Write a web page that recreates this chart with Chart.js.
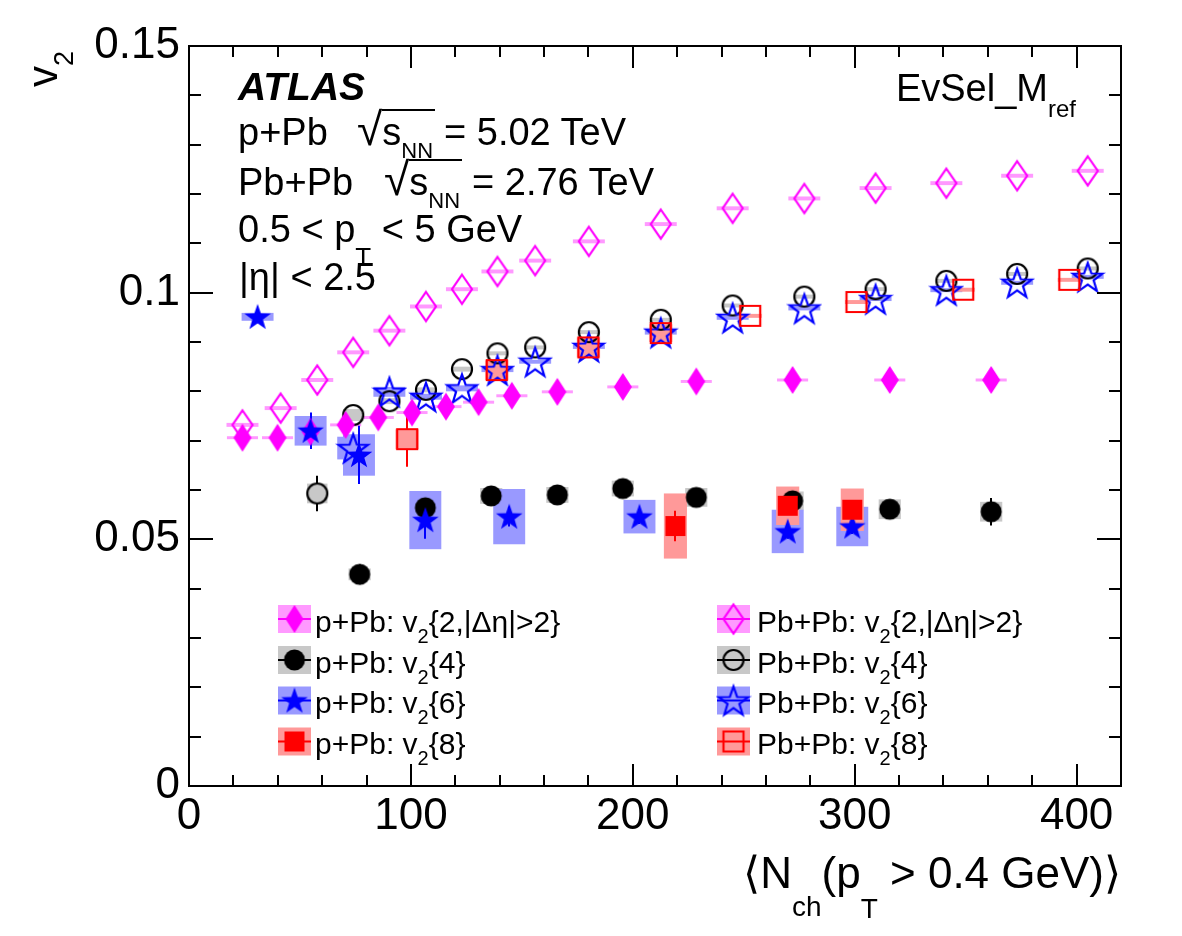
<!DOCTYPE html>
<html>
<head>
<meta charset="utf-8">
<script src="https://cdn.jsdelivr.net/npm/chart.js@4.4.1/dist/chart.umd.min.js"></script>
<style>
    html, body { margin: 0; padding: 0; background: #fff; }
    #wrap { position: relative; width: 1182px; height: 936px; overflow: hidden; }
    #chart { position: absolute; left: 0; top: 0; }
    .t { position: absolute; white-space: nowrap; font-family: "Liberation Sans", Arial, Helvetica, sans-serif; line-height: 1; color: #000; }
    .t sub { line-height: 0; }
    .ov { border-top: 2px solid #000; padding-right: 2px; }
    .rt { font-size: 46px; line-height: 0; }
</style>
</head>
<body>
<div id="wrap">
    <canvas id="chart" width="1182" height="936"></canvas>

    <div class="t" style="left:22px;top:87px;font-size:42px;transform-origin:0 0;transform:rotate(-90deg)">v<sub style="font-size:27px;vertical-align:-16px">2</sub></div>
    <div class="t" style="right:61px;top:850.8px;font-size:44px">&#10216;N<sub style="font-size:28px;vertical-align:-28px">ch</sub>(p<sub style="font-size:28px;vertical-align:-30px">T</sub> &gt; 0.4 GeV)&#10217;</div>

    <div class="t" style="left:238px;top:67px;font-size:39px;font-weight:bold;font-style:italic">ATLAS</div>
    <div class="t" style="left:238px;top:112.8px;font-size:38px">p+Pb</div>
    <div class="t" style="left:357px;top:112.8px;font-size:38px"><span class="rt">&#8730;</span><span class="ov">s<sub style="font-size:22px;vertical-align:-13px">NN</sub></span></div>
    <div class="t" style="left:444px;top:112.8px;font-size:38px">= 5.02 TeV</div>
    <div class="t" style="left:238px;top:162.8px;font-size:38px">Pb+Pb</div>
    <div class="t" style="left:384px;top:162.8px;font-size:38px"><span class="rt">&#8730;</span><span class="ov">s<sub style="font-size:22px;vertical-align:-13px">NN</sub></span></div>
    <div class="t" style="left:472px;top:162.8px;font-size:38px">= 2.76 TeV</div>
    <div class="t" style="left:238px;top:209.5px;font-size:38px">0.5 &lt; p<sub style="font-size:26px;vertical-align:-24px">T</sub> &lt; 5 GeV</div>
    <div class="t" style="left:239px;top:257.8px;font-size:38px">|&#951;| &lt; 2.5</div>
    <div class="t" style="right:106px;top:68.8px;font-size:38px">EvSel_M<sub style="font-size:24px;vertical-align:-16px">ref</sub></div>

    <div class="t" style="left:315px;top:607px;font-size:30px">p+Pb: v<sub style="font-size:20px;vertical-align:-11px">2</sub>{2,|&#916;&#951;|&gt;2}</div>
    <div class="t" style="left:315px;top:647.5px;font-size:30px">p+Pb: v<sub style="font-size:20px;vertical-align:-11px">2</sub>{4}</div>
    <div class="t" style="left:315px;top:688px;font-size:30px">p+Pb: v<sub style="font-size:20px;vertical-align:-11px">2</sub>{6}</div>
    <div class="t" style="left:315px;top:729px;font-size:30px">p+Pb: v<sub style="font-size:20px;vertical-align:-11px">2</sub>{8}</div>
    <div class="t" style="left:757px;top:607px;font-size:30px">Pb+Pb: v<sub style="font-size:20px;vertical-align:-11px">2</sub>{2,|&#916;&#951;|&gt;2}</div>
    <div class="t" style="left:757px;top:647.5px;font-size:30px">Pb+Pb: v<sub style="font-size:20px;vertical-align:-11px">2</sub>{4}</div>
    <div class="t" style="left:757px;top:688px;font-size:30px">Pb+Pb: v<sub style="font-size:20px;vertical-align:-11px">2</sub>{6}</div>
    <div class="t" style="left:757px;top:729px;font-size:30px">Pb+Pb: v<sub style="font-size:20px;vertical-align:-11px">2</sub>{8}</div>
</div>
<script>
// p+Pb
const ppbNch2 = [24.1, 39.9, 54.8, 70.6, 85.3, 100.5, 115.8, 130.5, 145.5, 166.0, 195.5, 228.6, 272.0, 315.8, 361.5];
const ppbV2_2 = [0.0706, 0.0706, 0.0718, 0.0732, 0.0747, 0.0757, 0.0769, 0.0778, 0.0791, 0.0799, 0.0809, 0.0820, 0.0823, 0.0823, 0.0823];
const ppbV2_2Stat = [0.0003, 0.0003, 0.0003, 0.0003, 0.0003, 0.0003, 0.0003, 0.0003, 0.0003, 0.0003, 0.0003, 0.0003, 0.0003, 0.0003, 0.0003];
const ppbV2_2Sys = [0.0003, 0.0003, 0.0003, 0.0003, 0.0003, 0.0003, 0.0003, 0.0003, 0.0003, 0.0003, 0.0003, 0.0003, 0.0003, 0.0003, 0.0003];

const ppbNch4 = [76.9, 106.5, 136.2, 166.0, 195.5, 228.6, 272.0, 315.8, 361.5];
const ppbV2_4 = [0.0429, 0.0564, 0.0588, 0.0590, 0.0603, 0.0585, 0.0578, 0.0561, 0.0556];
const ppbV2_4Stat = [0.0020, 0.0008, 0.0006, 0.0006, 0.0006, 0.0008, 0.0010, 0.0012, 0.0028];
const ppbV2_4Sys = [0.0012, 0.0015, 0.0016, 0.0016, 0.0016, 0.0019, 0.0019, 0.0020, 0.0020];

const ppbNch6 = [30.9, 54.8, 76.6, 106.5, 144.3, 203.0, 269.8, 298.9];
const ppbV2_6 = [0.0951, 0.0720, 0.0671, 0.0539, 0.0546, 0.0546, 0.0516, 0.0526];
const ppbV2_6Stat = [0.0005, 0.0037, 0.0059, 0.0038, 0.0020, 0.0015, 0.0015, 0.0015];
const ppbV2_6Sys = [0.0008, 0.0030, 0.0042, 0.0059, 0.0056, 0.0034, 0.0044, 0.0040];

const ppbNch8 = [219.2, 269.8, 298.9];
const ppbV2_8 = [0.0527, 0.0568, 0.0560];
const ppbV2_8Stat = [0.0031, 0.0015, 0.0015];
const ppbV2_8Sys = [0.0066, 0.0039, 0.0043];

// Pb+Pb
const pbpbNch2 = [24.1, 41.3, 57.8, 74.0, 90.3, 106.8, 123.0, 139.0, 156.0, 180.2, 212.6, 245.0, 277.3, 309.4, 341.3, 373.2, 405.0];
const pbpbV2_2 = [0.0732, 0.0766, 0.0823, 0.0879, 0.0923, 0.0972, 0.1007, 0.1043, 0.1065, 0.1104, 0.1139, 0.1171, 0.1191, 0.1212, 0.1222, 0.1237, 0.1247];
const pbpbV2_2Stat = [0.0003, 0.0003, 0.0003, 0.0003, 0.0003, 0.0003, 0.0003, 0.0003, 0.0003, 0.0003, 0.0003, 0.0003, 0.0003, 0.0003, 0.0003, 0.0003, 0.0003];
const pbpbV2_2Sys = [0.0004, 0.0004, 0.0004, 0.0004, 0.0004, 0.0004, 0.0004, 0.0004, 0.0004, 0.0004, 0.0004, 0.0004, 0.0004, 0.0004, 0.0004, 0.0004, 0.0004];

const pbpbNch4 = [57.8, 74.0, 90.3, 106.8, 123.0, 139.0, 156.0, 180.2, 212.6, 245.0, 277.3, 309.4, 341.3, 373.2, 405.0];
const pbpbV2_4 = [0.0593, 0.0752, 0.0780, 0.0803, 0.0845, 0.0877, 0.0889, 0.0920, 0.0945, 0.0974, 0.0992, 0.1007, 0.1024, 0.1038, 0.1049];
const pbpbV2_4Stat = [0.0036, 0.0004, 0.0004, 0.0004, 0.0004, 0.0004, 0.0004, 0.0004, 0.0004, 0.0004, 0.0004, 0.0004, 0.0004, 0.0004, 0.0004];
const pbpbV2_4Sys = [0.0020, 0.0012, 0.0006, 0.0005, 0.0005, 0.0004, 0.0004, 0.0004, 0.0004, 0.0004, 0.0004, 0.0004, 0.0004, 0.0004, 0.0004];

const pbpbNch6 = [74.0, 90.3, 106.8, 123.0, 139.0, 156.0, 180.2, 212.6, 245.0, 277.3, 309.4, 341.3, 373.2, 405.0];
const pbpbV2_6 = [0.0685, 0.0799, 0.0789, 0.0806, 0.0843, 0.0860, 0.0890, 0.0919, 0.0949, 0.0968, 0.0987, 0.1005, 0.1020, 0.1032];
const pbpbV2_6Stat = [0.0015, 0.0005, 0.0004, 0.0004, 0.0004, 0.0004, 0.0004, 0.0004, 0.0004, 0.0004, 0.0004, 0.0004, 0.0004, 0.0004];
const pbpbV2_6Sys = [0.0023, 0.0010, 0.0006, 0.0006, 0.0004, 0.0004, 0.0004, 0.0004, 0.0004, 0.0004, 0.0004, 0.0004, 0.0004, 0.0004];

const pbpbNch8 = [98.3, 138.7, 180.0, 212.6, 252.9, 300.8, 348.9, 396.7];
const pbpbV2_8 = [0.0703, 0.0843, 0.0889, 0.0918, 0.0953, 0.0981, 0.1006, 0.1026];
const pbpbV2_8Stat = [0.0056, 0.0005, 0.0005, 0.0005, 0.0005, 0.0005, 0.0005, 0.0005];
const pbpbV2_8Sys = [0.0020, 0.0020, 0.0020, 0.0018, 0.0004, 0.0004, 0.0004, 0.0004];

const xTicks = { min: 0, max: 420, major: 100, minor: 20 };
const yTicks = { min: 0, max: 0.15, major: 0.05, minor: 0.01 };

// marker pictures, drawn once and used as Chart.js pointStyle
function makeMarker(shape, filled, color) {
    const c = document.createElement("canvas");
    c.width = 36;
    c.height = 36;
    const ctx = c.getContext("2d");
    ctx.translate(18, 18);
    ctx.beginPath();
    if (shape === "diamond") {
        const w = filled ? 9 : 10, h = filled ? 14 : 14.5;
        ctx.moveTo(0, -h); ctx.lineTo(w, 0); ctx.lineTo(0, h); ctx.lineTo(-w, 0); ctx.closePath();
    } else if (shape === "circle") {
        ctx.arc(0, 0, filled ? 10.5 : 10, 0, Math.PI * 2);
    } else if (shape === "square") {
        ctx.rect(-10, -10, 20, 20);
    } else if (shape === "star") {
        const R = filled ? 14 : 15.5, r = R * 0.4;
        for (let i = 0; i < 10; i++) {
            const a = -Math.PI / 2 + i * Math.PI / 5;
            const rad = i % 2 ? r : R;
            ctx.lineTo(rad * Math.cos(a), rad * Math.sin(a) + (filled ? 1 : 1.5));
        }
        ctx.closePath();
    }
    if (filled) {
        ctx.fillStyle = color;
        ctx.fill();
    } else {
        ctx.lineWidth = 2.2;
        ctx.strokeStyle = color;
        ctx.stroke();
    }
    return c;
}

const MAGENTA = "#ff00ff", BLACK = "#000000", BLUE = "#0000ff", RED = "#ff0000";

// top-most series first (Chart.js draws dataset 0 last)
const seriesDefs = [
    { x: ppbNch8, y: ppbV2_8, stat: ppbV2_8Stat, sys: ppbV2_8Sys, color: RED, box: "#ff9999", shape: "square", filled: true, hw: 5.2, gap: 0 },
    { x: ppbNch6, y: ppbV2_6, stat: ppbV2_6Stat, sys: ppbV2_6Sys, color: BLUE, box: "#9999ff", shape: "star", filled: true, hw: 7.2, gap: 0 },
    { x: ppbNch4, y: ppbV2_4, stat: ppbV2_4Stat, sys: ppbV2_4Sys, color: BLACK, box: "#c8c8c8", shape: "circle", filled: true, hw: 5.0, gap: 0 },
    { x: ppbNch2, y: ppbV2_2, stat: ppbV2_2Stat, sys: ppbV2_2Sys, color: MAGENTA, box: "#ff99ff", shape: "diamond", filled: true, hw: 7.0, gap: 0 },
    { x: pbpbNch8, y: pbpbV2_8, stat: pbpbV2_8Stat, sys: pbpbV2_8Sys, color: RED, box: "#ff9999", shape: "square", filled: false, hw: 5.2, gap: 10 },
    { x: pbpbNch6, y: pbpbV2_6, stat: pbpbV2_6Stat, sys: pbpbV2_6Sys, color: BLUE, box: "#9999ff", shape: "star", filled: false, hw: 7.2, gap: 14 },
    { x: pbpbNch4, y: pbpbV2_4, stat: pbpbV2_4Stat, sys: pbpbV2_4Sys, color: BLACK, box: "#c8c8c8", shape: "circle", filled: false, hw: 4.6, gap: 10 },
    { x: pbpbNch2, y: pbpbV2_2, stat: pbpbV2_2Stat, sys: pbpbV2_2Sys, color: MAGENTA, box: "#ff99ff", shape: "diamond", filled: false, hw: 7.2, gap: 14 }
];
seriesDefs.forEach(s => { s.marker = makeMarker(s.shape, s.filled, s.color); });

// legend rows: [series index, box centre x, row centre y]
const legendRows = [
    [3, 294.5, 619], [2, 294.5, 660], [1, 294.5, 700.5], [0, 294.5, 741.5],
    [7, 733.5, 619], [6, 733.5, 660], [5, 733.5, 700.5], [4, 733.5, 741.5]
];

const rootStyle = {
    id: "rootStyle",
    beforeDatasetsDraw(chart) {
        const { ctx, chartArea: area, scales: { x, y } } = chart;
        ctx.save();
        ctx.beginPath();
        ctx.rect(area.left, area.top, area.right - area.left, area.bottom - area.top);
        ctx.clip();
        // systematic boxes
        for (let k = seriesDefs.length - 1; k >= 0; k--) {
            const s = seriesDefs[k];
            ctx.fillStyle = s.box;
            s.x.forEach((xv, i) => {
                const x0 = x.getPixelForValue(xv - s.hw), x1 = x.getPixelForValue(xv + s.hw);
                const y0 = y.getPixelForValue(s.y[i] + s.sys[i]), y1 = y.getPixelForValue(s.y[i] - s.sys[i]);
                ctx.fillRect(x0, y0, x1 - x0, Math.max(y1 - y0, 2));
            });
        }
        // statistical error bars
        ctx.lineWidth = 2;
        for (let k = seriesDefs.length - 1; k >= 0; k--) {
            const s = seriesDefs[k];
            ctx.strokeStyle = s.color;
            s.x.forEach((xv, i) => {
                const px = Math.round(x.getPixelForValue(xv));
                const py = y.getPixelForValue(s.y[i]);
                const top = y.getPixelForValue(s.y[i] + s.stat[i]);
                const bot = y.getPixelForValue(s.y[i] - s.stat[i]);
                ctx.beginPath();
                if (py - top > s.gap) { ctx.moveTo(px, top); ctx.lineTo(px, py - s.gap); }
                if (bot - py > s.gap) { ctx.moveTo(px, py + s.gap); ctx.lineTo(px, bot); }
                ctx.stroke();
            });
        }
        ctx.restore();
    },
    afterDatasetsDraw(chart) {
        const { ctx, chartArea: area, scales: { x, y } } = chart;
        ctx.save();
        ctx.strokeStyle = "#000";
        ctx.lineWidth = 2;
        ctx.strokeRect(area.left, area.top, area.right - area.left, area.bottom - area.top);
        ctx.beginPath();
        for (let v = xTicks.min; v <= xTicks.max + 1e-9; v += xTicks.minor) {
            const px = Math.round(x.getPixelForValue(v));
            const len = Math.abs(v % xTicks.major) < 1e-6 ? 22 : 11;
            ctx.moveTo(px, area.bottom); ctx.lineTo(px, area.bottom - len);
            ctx.moveTo(px, area.top); ctx.lineTo(px, area.top + len);
        }
        for (let i = 0; i <= Math.round((yTicks.max - yTicks.min) / yTicks.minor); i++) {
            const v = yTicks.min + i * yTicks.minor;
            const py = Math.round(y.getPixelForValue(v));
            const len = i % Math.round(yTicks.major / yTicks.minor) === 0 ? 24 : 12;
            ctx.moveTo(area.left, py); ctx.lineTo(area.left + len, py);
            ctx.moveTo(area.right, py); ctx.lineTo(area.right - len, py);
        }
        ctx.stroke();

        // legend symbols
        legendRows.forEach(([k, cx, cy]) => {
            const s = seriesDefs[k];
            ctx.fillStyle = s.box;
            ctx.fillRect(cx - 16.5, cy - 14, 33, 28);
            ctx.strokeStyle = s.color;
            ctx.lineWidth = 2;
            ctx.beginPath();
            ctx.moveTo(cx - 16.5, cy); ctx.lineTo(cx + 16.5, cy);
            ctx.stroke();
            ctx.drawImage(s.marker, cx - 18, cy - 18);
        });
        ctx.restore();
    }
};

const tickFont = { family: "'Liberation Sans', Arial, sans-serif", size: 44 };

new Chart(document.getElementById("chart"), {
    type: "scatter",
    data: {
        datasets: seriesDefs.map(s => ({
            data: s.x.map((xv, i) => ({ x: xv, y: s.y[i] })),
            pointStyle: s.marker,
            pointRadius: 12,
            pointHoverRadius: 12,
            showLine: false
        }))
    },
    options: {
        responsive: false,
        animation: false,
        devicePixelRatio: 1,
        layout: { padding: { top: 46, right: 61, bottom: 0, left: 0 } },
        plugins: { legend: { display: false }, tooltip: { enabled: false } },
        scales: {
            x: {
                type: "linear",
                min: xTicks.min,
                max: xTicks.max,
                grid: { display: false, drawTicks: false },
                border: { display: false },
                ticks: { stepSize: xTicks.major, includeBounds: false, maxRotation: 0, autoSkip: false, padding: 4, color: "#000", font: tickFont },
                afterFit: scale => { scale.height = 150; }
            },
            y: {
                type: "linear",
                min: yTicks.min,
                max: yTicks.max,
                grid: { display: false, drawTicks: false },
                border: { display: false },
                ticks: {
                    stepSize: yTicks.major, padding: 9, color: "#000", font: tickFont,
                    callback: v => String(Math.round(v * 100) / 100)
                },
                afterFit: scale => { scale.width = 189; }
            }
        }
    },
    plugins: [rootStyle]
});
</script>
</body>
</html>
